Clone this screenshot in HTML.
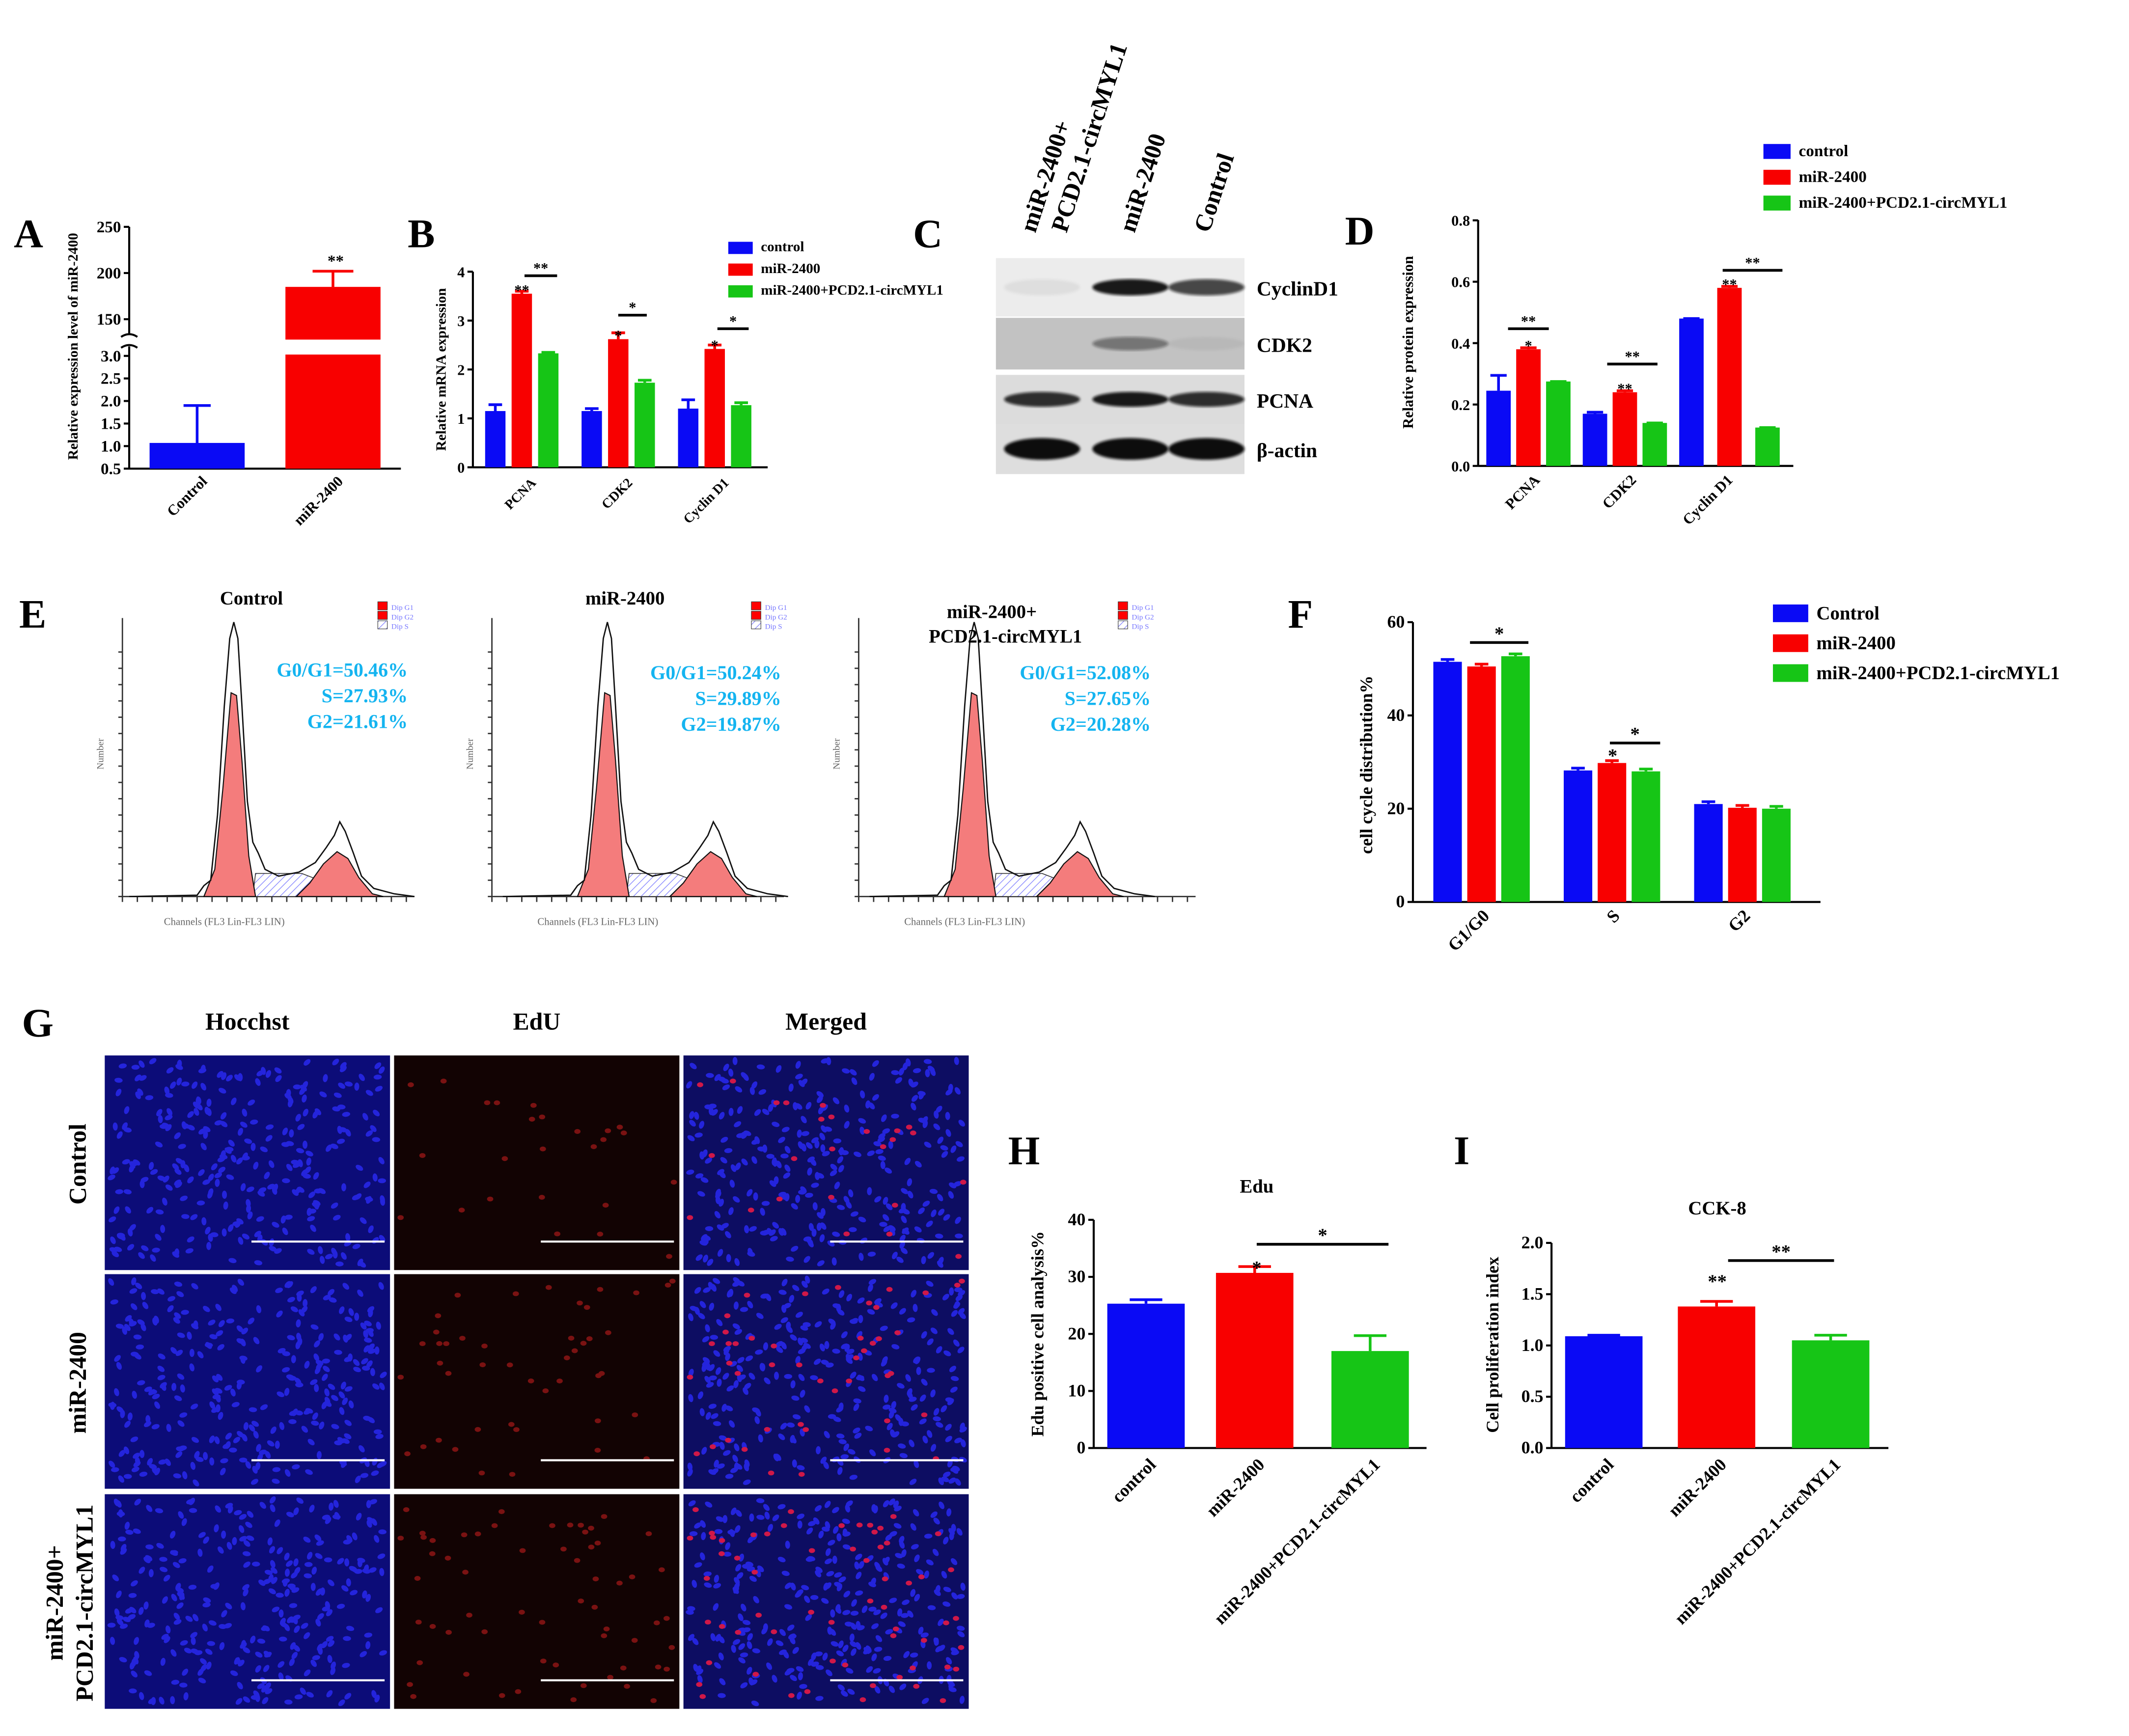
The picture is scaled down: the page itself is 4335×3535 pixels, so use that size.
<!DOCTYPE html>
<html><head><meta charset="utf-8"><style>
html,body{margin:0;padding:0;background:#fff;}
svg{display:block;}
text{font-family:"Liberation Serif",serif;}
</style></head><body>
<svg id="fig" xmlns="http://www.w3.org/2000/svg" width="4335" height="3535" viewBox="0 0 1567 1278">
<defs>
<pattern id="hatchS" patternUnits="userSpaceOnUse" width="4" height="4" patternTransform="rotate(45)"><rect width="4" height="4" fill="#fff"/><line x1="0" y1="0" x2="0" y2="4" stroke="#8888ff" stroke-width="1"/></pattern>
<filter id="blur2"><feGaussianBlur stdDeviation="1"/></filter>
</defs>
</svg>
<script>
// ===== Data arrays =====
const aCats=['Control','miR-2400'];
const aValues=[1.07,185];
const aErrTop=[1.9,202];
const bCats=['PCNA','CDK2','Cyclin D1'];
const bControl=[1.15,1.15,1.2];
const bMir=[3.55,2.62,2.42];
const bRescue=[2.33,1.73,1.27];
const bControlErr=[1.28,1.2,1.38];
const bMirErr=[3.6,2.75,2.5];
const bRescueErr=[2.35,1.78,1.32];
const bTicks=[0,1,2,3,4];
const dCats=['PCNA','CDK2','Cyclin D1'];
const dControl=[0.245,0.17,0.48];
const dMir=[0.38,0.24,0.58];
const dRescue=[0.275,0.14,0.125];
const dControlErr=[0.295,0.175,0.48];
const dMirErr=[0.385,0.245,0.585];
const dRescueErr=[0.275,0.14,0.125];
const dTicks=[0.0,0.2,0.4,0.6,0.8];
const fCats=['G1/G0','S','G2'];
const fControl=[51.5,28.2,21];
const fMir=[50.5,29.8,20.2];
const fRescue=[52.7,28,20];
const fTicks=[0,20,40,60];
const hCats=['control','miR-2400','miR-2400+PCD2.1-circMYL1'];
const hValues=[25.3,30.7,17];
const hErr=[26,31.8,19.7];
const hTicks=[0,10,20,30,40];
const iCats=['control','miR-2400','miR-2400+PCD2.1-circMYL1'];
const iValues=[1.09,1.38,1.05];
const iErr=[1.1,1.43,1.1];
const iTicks=[0.0,0.5,1.0,1.5,2.0];

const BLUE='#0a0af5',RED='#f80000',GREEN='#16c516';
const NS='http://www.w3.org/2000/svg';
const svg=document.getElementById('fig');
function mk(tag,attrs,parent){const e=document.createElementNS(NS,tag);for(const k in attrs)e.setAttribute(k,attrs[k]);(parent||svg).appendChild(e);return e;}
function txt(x,y,s,attrs,parent){const t=mk('text',Object.assign({x:x,y:y},attrs||{}),parent);t.textContent=s;return t;}
function grp(name){const g=mk('g',{});return g;}
function panelLetter(x,y,s){const t=txt(x,y,s,{'font-size':30,'font-weight':'bold'});}
function yAxis(g,x,y0,y1,ticks,scale,fs,fmt){
 const l=mk('line',{x1:x,y1:y0,x2:x,y2:y1,stroke:'#000','stroke-width':1.5},g);
 
 ticks.forEach(v=>{const y=scale(v);
  const tk=mk('line',{x1:x-4,y1:y,x2:x,y2:y,stroke:'#000','stroke-width':1.5},g);
  
  const t=txt(x-6,y+4,fmt?fmt(v):String(v),{'font-size':fs,'font-weight':'bold','text-anchor':'end'},g);
  });
}
function xAxis(g,x0,x1,y){const l=mk('line',{x1:x0,y1:y,x2:x1,y2:y,stroke:'#000','stroke-width':1.5},g);}
function bar(g,x,w,v,scale,color,name){const y=scale(v),y0=scale(0);const r=mk('rect',{x:x,y:y,width:w,height:y0-y,fill:color},g);return r;}
function errBar(g,xc,v,e,scale,color,hw){const y=scale(v),ye=scale(e);const l=mk('path',{d:`M${xc},${y}V${ye}M${xc-hw},${ye}H${xc+hw}`,stroke:color,'stroke-width':2,fill:'none'},g);}
function rotLabel(g,x,y,s,fs,ang){const t=txt(x,y,s,{'font-size':fs,'font-weight':'bold','text-anchor':'end',transform:`rotate(${ang||-45} ${x} ${y})`},g);}
function yTitle(g,x,y,s,fs){const t=txt(x,y,s,{'font-size':fs,'font-weight':'bold','text-anchor':'middle',transform:`rotate(-90 ${x} ${y})`},g);}
function star(g,x,y,s,fs){const t=txt(x,y,s,{'font-size':fs||13,'font-weight':'bold','text-anchor':'middle'},g);}
function sigLine(g,x0,x1,y,s,fs){const l=mk('line',{x1:x0,y1:y,x2:x1,y2:y,stroke:'#000','stroke-width':2},g);star(g,(x0+x1)/2,y-2,s,fs);}
function legend(g,x,y,dy,labels,colors,fs,sw,sh){labels.forEach((s,i)=>{const r=mk('rect',{x:x,y:y+i*dy-sh+2,width:sw,height:sh,fill:colors[i]},g);const t=txt(x+sw+6,y+i*dy,s,{'font-size':fs,'font-weight':'bold'},g);});}

// ===== Panel A =====
(function(){
 const g=grp('panel-a-chart');
 panelLetter(10,182,'A');
 const yLow=v=>345-(v-0.5)*33.2, yHigh=v=>235-(v-150)*0.68;
 const sc=v=>v<=3?yLow(Math.max(v,0.5)):yHigh(v);
 let l=mk('line',{x1:95,y1:167,x2:95,y2:246,stroke:'#000','stroke-width':1.5},g);
 l=mk('line',{x1:95,y1:255,x2:95,y2:345,stroke:'#000','stroke-width':1.5},g);
 l=mk('path',{d:'M89,248 Q95,244 101,248 M89,256 Q95,252 101,256',stroke:'#000','stroke-width':1.5,fill:'none'},g);
 [150,200,250].forEach(v=>{const y=yHigh(v);const tk=mk('line',{x1:91,y1:y,x2:95,y2:y,stroke:'#000','stroke-width':1.5},g);const t=txt(89,y+4,String(v),{'font-size':12,'font-weight':'bold','text-anchor':'end'},g);});
 [0.5,1.0,1.5,2.0,2.5,3.0].forEach(v=>{const y=yLow(v);const tk=mk('line',{x1:91,y1:y,x2:95,y2:y,stroke:'#000','stroke-width':1.5},g);const t=txt(89,y+4,v.toFixed(1),{'font-size':12,'font-weight':'bold','text-anchor':'end'},g);});
 xAxis(g,95,295,345);
 const xs=[110,210],w=70,cols=[BLUE,RED];
 aValues.forEach((v,i)=>{const y=sc(v);const r=mk('rect',{x:xs[i],y:y,width:w,height:345-y,fill:cols[i]},g);
  errBar(g,xs[i]+w/2,v,aErrTop[i],sc,cols[i],i?15:10);
  rotLabel(g,xs[i]+w/2+8,355,aCats[i],11);});
 const gap=mk('rect',{x:205,y:250,width:80,height:11,fill:'#fff'},g);
 star(g,247,196,'**',12);
 yTitle(g,57,255,'Relative expression level of miR-2400',10.5);
})();

// ===== Panel B =====
(function(){
 const g=grp('panel-b-chart');
 panelLetter(300,182,'B');
 const sc=v=>344-v*36;
 yAxis(g,348,200,344,bTicks,sc,11);
 xAxis(g,348,565,344);
 const x0=357,gw=71,bw=15;
 bCats.forEach((c,i)=>{const gx=x0+i*gw;
  [[bControl,bControlErr,BLUE],[bMir,bMirErr,RED],[bRescue,bRescueErr,GREEN]].forEach((s,j)=>{const bx=gx+j*19.5;bar(g,bx,bw,s[0][i],sc,s[2],'bar-'+c.toLowerCase().replace(' ','-')+'-'+j);errBar(g,bx+bw/2,s[0][i],s[1][i],sc,s[2],5);});
  rotLabel(g,gx+38,356,c,10);
  star(g,gx+27,sc(bMir[i])+1,i==0?'**':'*',11);
 });
 sigLine(g,386,410,203,'**',11);sigLine(g,455,476,232,'*',11);sigLine(g,528,551,242,'*',11);
 yTitle(g,328,272,'Relative mRNA expression',10.5);
 legend(g,536,185,16,['control','miR-2400','miR-2400+PCD2.1-circMYL1'],[BLUE,RED,GREEN],10.5,18,9);
})();

// ===== Panel C (western blot) =====
(function(){
 const g=grp('panel-c-western-blot');
 panelLetter(672,182,'C');
 const rows=[{n:'CyclinD1',y:190,h:43,bg:'#ececec',b:[0.06,0.95,0.75],bh:12},{n:'CDK2',y:234,h:38,bg:'#c2c2c2',b:[0,0.45,0.05],bh:10},{n:'PCNA',y:276,h:36,bg:'#dcdcdc',b:[0.85,0.95,0.85],bh:11},{n:'β-actin',y:312,h:37,bg:'#dedede',b:[1,1,1],bh:16}];
 const cx=[767,832,888];
 rows.forEach(r=>{const rect=mk('rect',{x:733,y:r.y,width:183,height:r.h,fill:r.bg},g);
  r.b.forEach((a,i)=>{if(a<=0)return;const e=mk('ellipse',{cx:cx[i],cy:r.y+r.h/2,rx:28,ry:r.bh/2,fill:'#111','fill-opacity':a,filter:'url(#blur2)'},g);});
  const t=txt(925,r.y+r.h/2+6,r.n,{'font-size':15,'font-weight':'bold'},g);});
 [['miR-2400+',762,172],['PCD2.1-circMYL1',785,172],['miR-2400',835,172],['Control',890,172]].forEach(a=>{const t=txt(a[1],a[2],a[0],{'font-size':18,'font-weight':'bold',transform:`rotate(-72 ${a[1]} ${a[2]})`},g);});
})();

// ===== Panel D =====
(function(){
 const g=grp('panel-d-chart');
 panelLetter(990,180,'D');
 const sc=v=>343-v*226;
 yAxis(g,1088,162,343,dTicks,sc,11,v=>v.toFixed(1));
 xAxis(g,1088,1320,343);
 const x0=1094,gw=71,bw=18;
 dCats.forEach((c,i)=>{const gx=x0+i*gw;
  [[dControl,dControlErr,BLUE],[dMir,dMirErr,RED],[dRescue,dRescueErr,GREEN]].forEach((s,j)=>{const bx=gx+j*(i==2?28:22);bar(g,bx,bw,s[0][i],sc,s[2],'bar-'+c.toLowerCase().replace(' ','-')+'-'+j);errBar(g,bx+bw/2,s[0][i],s[1][i],sc,s[2],6);});
  rotLabel(g,gx+40,354,c,11);
  star(g,gx+(i==2?37:31),sc(dMir[i])+1,i==0?'*':'**',11);
 });
 sigLine(g,1110,1140,242,'**',11);sigLine(g,1183,1220,268,'**',11);sigLine(g,1268,1312,199,'**',11);
 yTitle(g,1040,252,'Relative protein expression',11);
 legend(g,1298,115,19,['control','miR-2400','miR-2400+PCD2.1-circMYL1'],[BLUE,RED,GREEN],12,20,11);
})();

// ===== Panel E (flow cytometry) =====
(function(){
 panelLetter(14,462,'E');
 const outline=[[95,660],[145,659],[150,652],[155,648],[160,600],[165,520],[169,470],[172,458],[175,470],[178,520],[182,590],[186,620],[190,628],[195,640],[205,645],[220,642],[232,635],[240,624],[246,615],[250,605],[254,612],[260,628],[266,645],[275,654],[290,658],[305,660]];
 const g1=[[150,660],[158,640],[164,580],[170,510],[174,512],[178,560],[183,630],[188,660]];
 const g2=[[218,660],[228,650],[238,636],[248,627],[256,632],[264,646],[274,658],[282,660]];
 const sS=[[186,660],[188,643],[222,643],[235,648],[222,660]];
 const setup=[{dx:0,title:'Control',vals:['G0/G1=50.46%','S=27.93%','G2=21.61%'],ax:[90,305]},{dx:275,title:'miR-2400',vals:['G0/G1=50.24%','S=29.89%','G2=19.87%'],ax:[362,577]},{dx:545,title:'miR-2400+',title2:'PCD2.1-circMYL1',vals:['G0/G1=52.08%','S=27.65%','G2=20.28%'],ax:[632,880]}];
 const pth=(pts,dx)=>'M'+pts.map(p=>(p[0]+dx)+','+p[1]).join('L');
 setup.forEach((s,k)=>{const g=grp('flow-histogram-'+(k+1));
  const ax=mk('path',{d:`M${s.ax[0]},455V660H${s.ax[1]}`,stroke:'#333','stroke-width':1,fill:'none'},g);
  for(let x=s.ax[0];x<=s.ax[1];x+=11){const t=mk('line',{x1:x,y1:660,x2:x,y2:664,stroke:'#333','stroke-width':1},g);}
  for(let y=660;y>=470;y-=12){const t=mk('line',{x1:s.ax[0]-3,y1:y,x2:s.ax[0],y2:y,stroke:'#333','stroke-width':1},g);}
  let p=mk('path',{d:pth(sS,s.dx)+'Z',fill:'url(#hatchS)',stroke:'#333','stroke-width':0.6},g);
  p=mk('path',{d:pth(g1,s.dx)+'Z',fill:'#f47c7c',stroke:'#111','stroke-width':0.8},g);
  p=mk('path',{d:pth(g2,s.dx)+'Z',fill:'#f47c7c',stroke:'#111','stroke-width':0.8},g);
  p=mk('path',{d:pth(outline,s.dx),fill:'none',stroke:'#111','stroke-width':1},g);
  let t=txt(s.dx+185,s.title2?455:445,s.title,{'font-size':14,'font-weight':'bold','text-anchor':'middle'},g);
  if(s.title2){t=txt(s.dx+195,473,s.title2,{'font-size':14,'font-weight':'bold','text-anchor':'middle'},g);}
  s.vals.forEach((v,i)=>{t=txt(s.dx+(k==2?302:300),i*19+498+(k?2:0),v,{'font-size':14.5,'font-weight':'bold','text-anchor':'end',fill:'#14b4f0'},g);});
  ['Dip G1','Dip G2','Dip S'].forEach((v,i)=>{const r=mk('rect',{x:s.dx+278,y:443+i*7,width:7,height:6,fill:i<2?'#f00':'url(#hatchS)',stroke:'#333','stroke-width':0.4},g);t=txt(s.dx+288,449+i*7,v,{'font-size':5.5,fill:'#77f'},g);});
  t=txt(s.dx+165,681,'Channels (FL3 Lin-FL3 LIN)',{'font-size':7.5,fill:'#666','text-anchor':'middle'},g);
  t=txt(s.ax[0]-14,555,'Number',{'font-size':7,fill:'#666','text-anchor':'middle',transform:`rotate(-90 ${s.ax[0]-14} 555)`},g);
 });
})();

// ===== Panel F =====
(function(){
 const g=grp('panel-f-chart');
 panelLetter(948,462,'F');
 const sc=v=>664-v*3.433;
 yAxis(g,1040,458,664,fTicks,sc,13);
 xAxis(g,1040,1340,664);
 const x0=1055,gw=96,bw=21;
 fCats.forEach((c,i)=>{const gx=x0+i*gw;
  [[fControl,BLUE],[fMir,RED],[fRescue,GREEN]].forEach((s,j)=>{const bx=gx+j*25;bar(g,bx,bw,s[0][i],sc,s[1],'bar-'+c.toLowerCase().replace('/','-')+'-'+j);errBar(g,bx+bw/2,s[0][i],s[0][i]+0.5,sc,s[1],5);});
  rotLabel(g,gx+42,675,c,13);
 });
 sigLine(g,1082,1125,473,'*',14);sigLine(g,1185,1222,547,'*',14);star(g,1187,561,'*',14);
 yTitle(g,1010,563,'cell cycle distribution%',13);
 legend(g,1305,456,22,['Control','miR-2400','miR-2400+PCD2.1-circMYL1'],[BLUE,RED,GREEN],14,26,13);
})();

// ===== Panel G (fluorescence images) =====
(function(){
 panelLetter(16,763,'G');
 const g=grp('panel-g-images');
 const cols=[77,290,503],rows=[777,938,1100],w=210,h=158;
 ['Hocchst','EdU','Merged'].forEach((s,i)=>{const t=txt(cols[i]+w/2,758,s,{'font-size':18,'font-weight':'bold','text-anchor':'middle'},g);});
 let seed=7;const rnd=()=>{seed=(seed*16807)%2147483647;return seed/2147483647;};
 const redCounts=[25,45,60];
 rows.forEach((ry,r)=>{cols.forEach((cx,c)=>{const cg=grp('micrograph-r'+(r+1)+'-c'+(c+1));
  const bg=mk('rect',{x:cx,y:ry,width:w,height:h,fill:c==1?'#120303':(c==0?'#0c0c78':'#0d0d62')},cg);
  seed=1000+r*31+c*7;
  if(c!=1){for(let k=0;k<300;k++){const x=cx+4+rnd()*(w-8),y=ry+4+rnd()*(h-8),a=rnd()*180;const e=mk('ellipse',{cx:x,cy:y,rx:3,ry:1.8,fill:'#2424dc',transform:`rotate(${a} ${x} ${y})`},cg);}}
  seed=500+r*13;
  if(c!=0){for(let k=0;k<redCounts[r];k++){const e=mk('ellipse',{cx:cx+4+rnd()*(w-8),cy:ry+4+rnd()*(h-8),rx:2.3,ry:1.8,fill:c==1?'#7a1212':'#d01848'},cg);}}
  const sb=mk('line',{x1:cx+108,y1:ry+h-21,x2:cx+206,y2:ry+h-21,stroke:'#fff','stroke-width':1.5},cg);
 });});
 [['Control',857],['miR-2400',1018]].forEach(a=>{const t=txt(63,a[1],a[0],{'font-size':18,'font-weight':'bold','text-anchor':'middle',transform:`rotate(-90 63 ${a[1]})`},g);});
 let t=txt(46,1180,'miR-2400+',{'font-size':18,'font-weight':'bold','text-anchor':'middle',transform:'rotate(-90 46 1180)'},g);
 t=txt(68,1180,'PCD2.1-circMYL1',{'font-size':18,'font-weight':'bold','text-anchor':'middle',transform:'rotate(-90 68 1180)'},g);
})();

// ===== Panel H =====
(function(){
 const g=grp('panel-h-chart');
 panelLetter(742,857,'H');
 const sc=v=>1066-v*4.2;
 yAxis(g,805,898,1066,hTicks,sc,13);
 xAxis(g,805,1050,1066);
 const xs=[815,895,980],w=57,cols=[BLUE,RED,GREEN];
 hValues.forEach((v,i)=>{bar(g,xs[i],w,v,sc,cols[i],'bar-'+hCats[i]);errBar(g,xs[i]+w/2,v,hErr[i],sc,cols[i],12);rotLabel(g,xs[i]+w/2+8,1079,hCats[i],13);});
 star(g,925,938,'*',14);sigLine(g,925,1022,916,'*',14);
 let t=txt(925,878,'Edu',{'font-size':14,'font-weight':'bold','text-anchor':'middle'},g);
 yTitle(g,768,982,'Edu positive cell analysis%',13);
})();

// ===== Panel I =====
(function(){
 const g=grp('panel-i-chart');
 panelLetter(1070,857,'I');
 const sc=v=>1066-v*75.5;
 yAxis(g,1142,915,1066,iTicks,sc,13,v=>v.toFixed(1));
 xAxis(g,1142,1390,1066);
 const xs=[1152,1235,1319],w=57,cols=[BLUE,RED,GREEN];
 iValues.forEach((v,i)=>{bar(g,xs[i],w,v,sc,cols[i],'bar-'+iCats[i]);errBar(g,xs[i]+w/2,v,iErr[i],sc,cols[i],12);rotLabel(g,xs[i]+w/2+8,1079,iCats[i],13);});
 star(g,1264,948,'**',14);sigLine(g,1272,1350,928,'**',14);
 let t=txt(1264,894,'CCK-8',{'font-size':14,'font-weight':'bold','text-anchor':'middle'},g);
 yTitle(g,1103,990,'Cell proliferation index',13);
})();
</script>
</body></html>
